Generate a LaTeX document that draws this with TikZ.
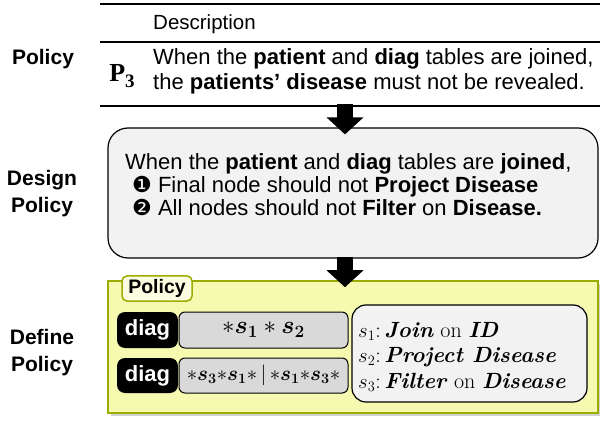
\documentclass[tikz,border=0pt]{standalone}
\usepackage{bm}
\usepackage{fontspec}
\setsansfont{Liberation Sans}
\newfontfamily\dejavu{DejaVu Sans}
\newfontfamily\timesish{Liberation Serif}
\usepackage{tikz}
\usetikzlibrary{arrows.meta, positioning, shadows}
\usepackage{xcolor}
\definecolor{padyellow}{HTML}{F6F9B0}
\definecolor{padolive}{HTML}{9DAC00}
\definecolor{tagcream}{HTML}{FCFDE0}
\definecolor{panegray}{HTML}{F2F2F2}
\definecolor{patgray}{HTML}{D9D9D9}

\begin{document}
\begin{tikzpicture}[x=1pt, y=-1pt, font=\sffamily,
        sidelabel/.style={font=\sffamily\bfseries\fontsize{21}{27}\selectfont, align=center},
        bodytext/.style={font=\sffamily\fontsize{22}{25}\selectfont, inner sep=0pt, anchor=base west},
        bigarrow/.style={-{Triangle[width=36pt, length=17pt]}, line width=16pt},
        pane/.style={draw, line width=1.2pt, fill=panegray, inner sep=0pt},
        tablebox/.style={fill=black, text=white, rounded corners=8pt, inner sep=0pt,
            font=\sffamily\bfseries\fontsize{22}{22}\selectfont, minimum width=61pt, minimum height=36pt},
        patbox/.style={draw, line width=1pt, fill=patgray, rounded corners=6pt, inner sep=0pt,
            minimum width=169pt, minimum height=36pt}
    ]
        \useasboundingbox (0,0) rectangle (600,422);

        % Policy table
        \draw[line width=1.3pt] (100,4) -- (600,4);
        \draw[line width=1.3pt] (100,42) -- (600,42);
        \draw[line width=1.3pt] (100,106) -- (600,106);
        \node[bodytext, font=\sffamily\fontsize{20.5}{20.5}\selectfont] (desc) at (153,30) {Description};
        \node[sidelabel, anchor=base] (lblpolicy) at (43,64.5) {Policy};
        \node[font=\timesish\bfseries\fontsize{26}{26}\selectfont] (pid) at (122,76) {P\raisebox{-6pt}{\fontsize{19}{19}\selectfont 3}};
        \node[bodytext] (line1) at (153,65) {When the \textbf{patient} and \textbf{diag} tables are joined,};
        \node[bodytext] (line2) at (153,90) {the \textbf{patients’ disease} must not be revealed.};

        % Design policy
        \node[pane, rounded corners=20pt, minimum width=490pt, minimum height=130pt] (design) at (353,193) {};
        \node[sidelabel] (lbldesign) at (42,194) {Design\\Policy};
        \node[bodytext] (dline1) at (125,170) {When the \textbf{patient} and \textbf{diag} tables are \textbf{joined},};
        \node[bodytext] (dline2) at (132,193) {{\dejavu ❶} Final node should not \textbf{Project Disease}};
        \node[bodytext] (dline3) at (132,216) {{\dejavu ❷} All nodes should not \textbf{Filter} on \textbf{Disease.}};

        % Define policy
        \node[draw=padolive, line width=1.5pt, fill=padyellow, minimum width=490pt, minimum height=132pt,
            inner sep=0pt, drop shadow={shadow xshift=3pt, shadow yshift=-3pt, fill=black!35}] (define) at (353,347) {};
        \node[sidelabel] (lbldefine) at (42,352.5) {Define\\Policy};
        \node[draw=padolive, line width=1.5pt, fill=tagcream, rounded corners=5pt, inner sep=0pt,
            minimum width=70pt, minimum height=25pt, font=\sffamily\bfseries\fontsize{19.5}{19.5}\selectfont] (tag) at (157,288.5) {Policy};

        \node[tablebox] (diag1) at (147.5,330) {diag};
        \node[patbox, font=\fontsize{23}{23}\selectfont] (pat1) at (263.5,330) {$\ast \bm{s}_{\bm{1}} \ast \bm{s}_{\bm{2}}$};
        \node[tablebox, minimum height=35pt] (diag2) at (147.5,375.5) {diag};
        \node[patbox, minimum height=35pt, font=\fontsize{20.5}{20.5}\selectfont] (pat2) at (263.5,375.5) {${\ast}\bm{s}_{\bm{3}}{\ast}\bm{s}_{\bm{1}}{\ast}\,|\,{\ast}\bm{s}_{\bm{1}}{\ast}\bm{s}_{\bm{3}}{\ast}$};

        \node[pane, rounded corners=14pt, minimum width=235pt, minimum height=97pt] (steps) at (469.5,353.5) {};
        \node[bodytext, font=\rmfamily\fontsize{22}{22}\selectfont] (step1) at (358,337) {$s_1$:\,\textbf{\textit{Join}} on \textbf{\textit{ID}}};
        \node[bodytext, font=\rmfamily\fontsize{22}{22}\selectfont] (step2) at (358,362.5) {$s_2$:\,\textbf{\textit{Project Disease}}};
        \node[bodytext, font=\rmfamily\fontsize{22}{22}\selectfont] (step3) at (358,388) {$s_3$:\,\textbf{\textit{Filter}} on \textbf{\textit{Disease}}};

        % Arrows
        \coordinate (arrowtop) at (345,104);
        \coordinate (arrowmid) at (345,257);
        \draw[bigarrow] (arrowtop) -- ([yshift=-7pt]design.north -| arrowtop);
        \draw[bigarrow] (arrowmid) -- ([yshift=-7pt]define.north -| arrowmid);
    \end{tikzpicture}
\end{document}
